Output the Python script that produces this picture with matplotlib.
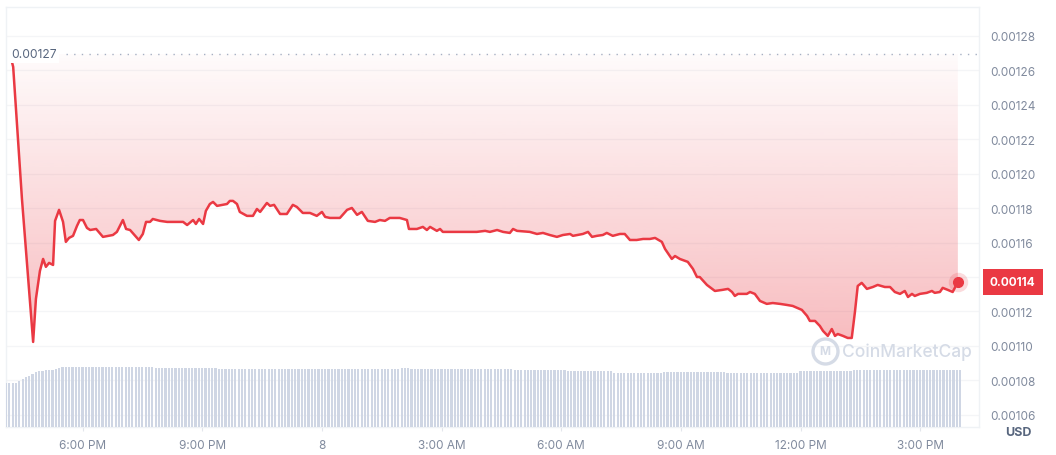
import numpy as np
import matplotlib
matplotlib.use('Agg')
import matplotlib.pyplot as plt
import matplotlib.transforms as mtransforms
from matplotlib.patches import Polygon
from matplotlib.colors import to_rgb

plt.rcParams['font.family'] = ['Inter', 'DejaVu Sans']

# horas relativas à meia-noite do dia 8 (negativo = dia 7)
horas = [
    -7.82, -7.74, -7.52, -7.24, -7.17, -7.07, -6.99, -6.92, -6.84, -6.74,
    -6.69, -6.59, -6.49, -6.42, -6.34, -6.24, -6.14, -6.07, -5.99, -5.89,
    -5.81, -5.66, -5.49, -5.24, -5.14, -4.99, -4.91, -4.81, -4.59, -4.49,
    -4.41, -4.31, -4.24, -4.06, -3.88, -3.73, -3.48, -3.38, -3.23, -3.16,
    -3.08, -2.98, -2.91, -2.81, -2.73, -2.63, -2.38, -2.31, -2.23, -2.13,
    -2.06, -1.88, -1.73, -1.63, -1.55, -1.38, -1.30, -1.20, -1.05, -0.88,
    -0.73, -0.63, -0.48, -0.30, -0.13, 0.00, 0.08, 0.20, 0.45, 0.63,
    0.75, 0.88, 1.00, 1.15, 1.33, 1.45, 1.58, 1.70, 1.95, 2.13,
    2.18, 2.38, 2.53, 2.63, 2.71, 2.88, 2.96, 3.03, 3.28, 3.53,
    3.88, 4.09, 4.21, 4.39, 4.54, 4.71, 4.79, 4.89, 5.21, 5.39,
    5.54, 5.71, 5.89, 6.04, 6.22, 6.29, 6.54, 6.67, 6.77, 6.89,
    7.04, 7.14, 7.29, 7.47, 7.59, 7.72, 7.89, 8.05, 8.22, 8.35,
    8.52, 8.60, 8.77, 8.85, 8.97, 9.17, 9.30, 9.40, 9.47, 9.65,
    9.85, 10.03, 10.18, 10.28, 10.35, 10.43, 10.65, 10.73, 10.85, 10.98,
    11.15, 11.30, 11.48, 11.65, 11.80, 12.03, 12.16, 12.23, 12.36, 12.48,
    12.56, 12.68, 12.78, 12.86, 12.93, 13.06, 13.18, 13.28, 13.36, 13.43,
    13.53, 13.66, 13.81, 13.93, 14.11, 14.24, 14.36, 14.49, 14.61, 14.69,
    14.79, 14.86, 14.99, 15.16, 15.29, 15.36, 15.49, 15.56, 15.69, 15.81,
    15.94,
]

# preço em unidades de 1e-5 USD
precos = [
    126.95, 126.20, 118.53, 110.23, 112.73, 114.35, 115.05, 114.59, 114.82, 114.70,
    117.26, 117.90, 117.20, 116.04, 116.27, 116.39, 116.97, 117.31, 117.31, 116.85,
    116.73, 116.79, 116.33, 116.44, 116.62, 117.31, 116.79, 116.73, 116.15, 116.50,
    117.20, 117.20, 117.37, 117.26, 117.20, 117.20, 117.20, 117.02, 117.31, 117.08,
    117.37, 117.08, 117.84, 118.24, 118.36, 118.13, 118.24, 118.42, 118.42, 118.24,
    117.78, 117.55, 117.55, 117.95, 117.78, 118.30, 118.13, 118.19, 117.66, 117.66,
    118.19, 118.07, 117.72, 117.72, 117.55, 117.78, 117.49, 117.43, 117.43, 117.90,
    118.01, 117.61, 117.78, 117.26, 117.20, 117.31, 117.26, 117.43, 117.43, 117.31,
    116.79, 116.79, 116.91, 116.73, 116.91, 116.68, 116.79, 116.62, 116.62, 116.62,
    116.62, 116.68, 116.62, 116.73, 116.62, 116.56, 116.79, 116.68, 116.62, 116.50,
    116.56, 116.44, 116.33, 116.44, 116.50, 116.39, 116.50, 116.62, 116.33, 116.39,
    116.44, 116.56, 116.39, 116.50, 116.50, 116.15, 116.15, 116.21, 116.21, 116.27,
    116.04, 115.63, 115.05, 115.22, 115.05, 114.88, 114.47, 114.00, 114.00, 113.54,
    113.19, 113.25, 113.31, 113.13, 112.90, 113.02, 113.02, 113.13, 113.02, 112.61,
    112.44, 112.49, 112.44, 112.38, 112.32, 112.09, 111.74, 111.45, 111.45, 111.16,
    110.87, 110.58, 110.98, 110.58, 110.69, 110.58, 110.46, 110.46, 111.97, 113.48,
    113.66, 113.31, 113.42, 113.54, 113.42, 113.42, 113.13, 113.02, 113.19, 112.84,
    113.02, 112.90, 113.02, 113.08, 113.19, 113.08, 113.13, 113.37, 113.25, 113.13,
    113.71,
]

# volume a cada 5 minutos (escala relativa)
volume_inicio = -7.92
volume = [
    31.4, 31.4, 31.4, 31.4, 32.9, 34.3, 35.7, 36.4, 37.9, 39.3, 40.0, 40.0, 40.7, 40.7, 40.7, 41.4,
    42.1, 42.9, 42.9, 42.9, 42.9, 42.9, 42.9, 42.9, 42.9, 42.9, 42.9, 42.9, 42.9, 42.9, 42.9, 42.9,
    42.9, 42.9, 42.9, 42.9, 42.9, 42.9, 42.9, 42.9, 42.9, 42.9, 42.9, 42.9, 42.9, 42.1, 42.1, 42.1,
    42.1, 42.1, 42.1, 42.1, 42.1, 42.1, 42.1, 42.1, 42.1, 42.1, 42.1, 42.1, 42.1, 42.1, 42.1, 42.1,
    41.4, 41.4, 41.4, 41.4, 41.4, 41.4, 41.4, 41.4, 41.4, 41.4, 41.4, 41.4, 41.4, 41.4, 41.4, 41.4,
    41.4, 41.4, 41.4, 41.4, 41.4, 41.4, 41.4, 41.4, 41.4, 41.4, 41.4, 41.4, 41.4, 41.4, 41.4, 41.4,
    41.4, 41.4, 41.4, 41.4, 41.4, 41.4, 41.4, 41.4, 41.4, 41.4, 41.4, 41.4, 41.4, 41.4, 41.4, 41.4,
    41.4, 41.4, 41.4, 41.4, 41.4, 41.4, 41.4, 42.1, 42.1, 42.1, 41.4, 41.4, 41.4, 41.4, 41.4, 41.4,
    41.4, 41.4, 41.4, 41.4, 41.4, 41.4, 41.4, 41.4, 41.4, 41.4, 41.4, 41.4, 41.4, 41.4, 41.4, 41.4,
    41.4, 41.4, 41.4, 41.4, 41.4, 41.4, 41.4, 41.4, 41.4, 40.7, 40.7, 40.7, 40.7, 40.7, 40.7, 40.7,
    40.7, 40.7, 40.7, 40.7, 40.7, 40.7, 40.7, 40.7, 40.7, 40.0, 40.0, 40.0, 40.0, 40.0, 40.0, 40.0,
    40.0, 40.0, 40.0, 40.0, 40.0, 40.0, 40.0, 38.6, 38.6, 38.6, 38.6, 38.6, 38.6, 38.6, 38.6, 38.6,
    38.6, 38.6, 38.6, 38.6, 38.6, 38.6, 39.3, 39.3, 39.3, 39.3, 39.3, 39.3, 39.3, 39.3, 39.3, 39.3,
    39.3, 39.3, 39.3, 39.3, 39.3, 39.3, 39.3, 39.3, 39.3, 38.6, 38.6, 38.6, 38.6, 38.6, 38.6, 38.6,
    38.6, 38.6, 38.6, 38.6, 38.6, 38.6, 38.6, 38.6, 38.6, 38.6, 38.6, 38.6, 38.6, 38.6, 38.6, 40.0,
    40.0, 40.0, 40.0, 40.0, 40.0, 40.0, 40.0, 40.0, 40.0, 40.0, 40.0, 40.0, 40.0, 40.0, 40.0, 40.7,
    40.7, 40.7, 40.7, 40.7, 40.7, 40.7, 40.7, 40.7, 40.7, 40.7, 40.7, 40.7, 40.7, 40.7, 40.7, 40.7,
    40.7, 40.7, 40.7, 40.7, 40.7, 40.7, 40.7, 40.7, 40.7, 40.7, 40.7, 40.7, 40.7, 40.7, 40.7, 40.7,
]

marcas_x = [-6, -3, 0, 3, 6, 9, 12, 15]
rotulos_x = ['6:00 PM', '9:00 PM', '8', '3:00 AM', '6:00 AM', '9:00 AM', '12:00 PM', '3:00 PM']
marcas_y = [106, 108, 110, 112, 114, 116, 118, 120, 122, 124, 126, 128]

VERMELHO = '#EA3943'
CINZA = '#808A9D'
BORDA = '#EFF2F5'

precos_usd = np.array(precos) * 1e-5
topo = max(precos_usd)
ultimo = precos_usd[-1]

fig = plt.figure(figsize=(10.56, 4.56), dpi=100)
ax = fig.add_axes([6 / 1056, 28 / 456, 973 / 1056, 420 / 456])

# volume no fundo
ax2 = ax.twinx()
ax2.set_axis_off()
vol_horas = volume_inicio + np.arange(len(volume)) / 12
ax2.bar(vol_horas, volume, width=0.055, color='#CFD6E4', linewidth=0)
ax2.set_ylim(0, 300)

# área com gradiente acima da linha
verts = list(zip(horas, precos_usd)) + [(horas[-1], topo), (horas[0], topo)]
poly = Polygon(verts, closed=True, facecolor='none', edgecolor='none')
ax.add_patch(poly)
rgba = np.zeros((256, 1, 4))
rgba[..., :3] = to_rgb(VERMELHO)
rgba[..., 3] = np.linspace(0.34, 0.02, 256).reshape(-1, 1)
im = ax.imshow(rgba, extent=[horas[0], horas[-1], min(precos_usd), topo],
               origin='lower', aspect='auto', zorder=1, interpolation='bilinear')
im.set_clip_path(poly)

ax.plot(horas, precos_usd, color=VERMELHO, linewidth=1.8, zorder=3, solid_joinstyle='round')
ax.plot(horas[-1], ultimo, 'o', markersize=14, color=VERMELHO, alpha=0.18,
        markeredgewidth=0, zorder=4, clip_on=False)
ax.plot(horas[-1], ultimo, 'o', markersize=7, color=VERMELHO, zorder=5, clip_on=False)

# linha pontilhada do máximo
ax.axhline(topo, xmin=0.062, xmax=1, color='#A6B0C3', linewidth=1, linestyle=(0, (1, 4.5)), zorder=2)
mist = mtransforms.blended_transform_factory(ax.transAxes, ax.transData)
ax.text(0.005, topo, f'{topo:.5f}', transform=mist, ha='left', va='center', fontsize=8.7,
        color='#58667E', zorder=6, bbox=dict(facecolor='white', edgecolor='none', pad=2))

# etiqueta do último preço (substitui o rótulo do eixo nesse nível)
ax.text(1.0113, ultimo, f'{ultimo:.5f}', transform=mist, ha='left', va='center',
        fontsize=8.5, color='white', fontweight='bold', zorder=6, clip_on=False,
        bbox=dict(boxstyle='square,pad=0.6', facecolor=VERMELHO, edgecolor='none'))

# marca d'água
ax.plot(0.8417, 0.181, 'o', transform=ax.transAxes, markersize=18, markerfacecolor='none',
        markeredgecolor='#D5DBE6', markeredgewidth=2.4, zorder=2)
ax.text(0.8417, 0.181, 'M', transform=ax.transAxes, ha='center', va='center', fontsize=8.5,
        color='#D5DBE6', fontweight='bold', zorder=2)
ax.text(0.859, 0.181, 'CoinMarketCap', transform=ax.transAxes, ha='left', va='center',
        fontsize=12.5, color='#D5DBE6', fontweight='medium', zorder=2)

ax.set_xlim(-7.92, 16.47)
ax.set_ylim(105.29e-5, 129.68e-5)

ax.yaxis.tick_right()
ax.set_yticks(np.array(marcas_y) * 1e-5)
ax.set_yticklabels(['' if abs(v * 1e-5 - ultimo) < 1e-5 else f'{v * 1e-5:.5f}' for v in marcas_y])
ax.set_xticks(marcas_x)
ax.set_xticklabels(rotulos_x)
ax.tick_params(axis='y', length=0, pad=8, labelsize=8.5, labelcolor=CINZA)
ax.tick_params(axis='x', length=3, color='#E3E6EC', pad=6, labelsize=8.5, labelcolor=CINZA)
ax.grid(axis='y', color='#F4F5F7', linewidth=0.9)
ax.set_axisbelow(True)
for s in ax.spines.values():
    s.set_color(BORDA)
    s.set_linewidth(1)

fig.text(1018 / 1056, 1 - 433 / 456, 'USD', ha='center', va='center', fontsize=9,
         fontweight='bold', color='#58667E')

fig.savefig('out.png', dpi=100)
